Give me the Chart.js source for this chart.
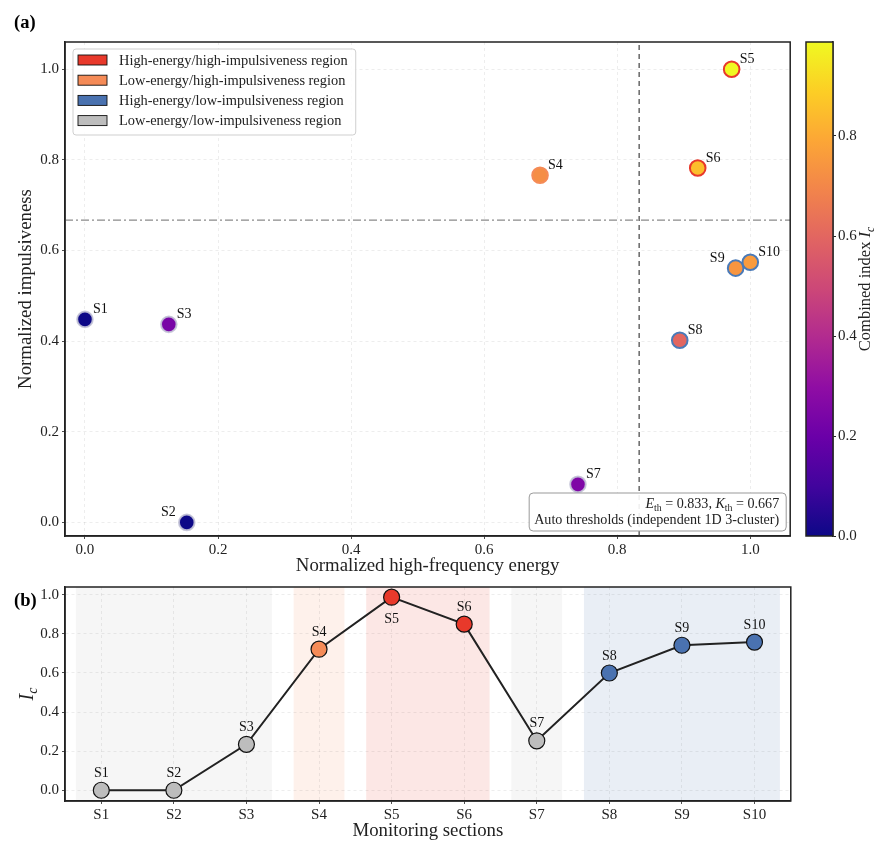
<!DOCTYPE html>
<html>
<head>
<meta charset="utf-8">
<script src="https://cdn.jsdelivr.net/npm/chart.js@4.4.1/dist/chart.umd.min.js"></script>
<style>
  body { margin: 0; background: #fff; width: 887px; height: 856px; position: relative; overflow: hidden; }
  .box { position: absolute; }
</style>
</head>
<body>
<div class="box" style="left:0;top:0;width:800px;height:580px"><canvas id="scatter"></canvas></div>
<div class="box" style="left:800px;top:0;width:87px;height:580px"><canvas id="cbar"></canvas></div>
<div class="box" style="left:0;top:575px;width:800px;height:281px"><canvas id="trend"></canvas></div>
<script>
// ---- data ----
var sections = ['S1', 'S2', 'S3', 'S4', 'S5', 'S6', 'S7', 'S8', 'S9', 'S10'];
var energy   = [0.000, 0.153, 0.126, 0.684, 0.972, 0.921, 0.741, 0.894, 0.978, 1.000];
var impulse  = [0.448, 0.000, 0.437, 0.766, 1.000, 0.782, 0.084, 0.402, 0.561, 0.574];
var combined = [0.000, 0.000, 0.235, 0.722, 0.988, 0.850, 0.253, 0.600, 0.742, 0.758];
var E_TH = 0.833;
var K_TH = 0.667;

var energyTicks  = [0, 0.2, 0.4, 0.6, 0.8, 1.0];
var impulseTicks = [0, 0.2, 0.4, 0.6, 0.8, 1.0];
var icTicks      = [0, 0.2, 0.4, 0.6, 0.8, 1.0];
var cbarTicks    = [0, 0.2, 0.4, 0.6, 0.8];

var regionKeys  = ['HH', 'LH', 'HL', 'LL'];
var regionNames = ['High-energy/high-impulsiveness region', 'Low-energy/high-impulsiveness region',
                   'High-energy/low-impulsiveness region', 'Low-energy/low-impulsiveness region'];

// ---- styling helpers ----
var SERIF = "'Liberation Serif', 'Times New Roman', serif";
var INK = '#222222';
var regionColor = { HH: '#e8392b', LH: '#f58b57', HL: '#4a72b0', LL: '#bdbdbd' };
var regionEdge  = { HH: '#e8392b', LH: '#f58b57', HL: '#4a7ab8', LL: 'rgba(195,195,215,0.9)' };
var plasmaStops = ['#0d0887', '#41049d', '#6a00a8', '#8f0da4', '#b12a90', '#cc4778',
                   '#e16462', '#f2844b', '#fca636', '#fcce25', '#f0f921'];

function hexRgb(h) { return [parseInt(h.substr(1, 2), 16), parseInt(h.substr(3, 2), 16), parseInt(h.substr(5, 2), 16)]; }
function plasma(t) {
  t = Math.max(0, Math.min(1, t));
  var p = t * (plasmaStops.length - 1), i = Math.min(Math.floor(p), plasmaStops.length - 2), f = p - i;
  var a = hexRgb(plasmaStops[i]), b = hexRgb(plasmaStops[i + 1]);
  return 'rgb(' + [0, 1, 2].map(function (k) { return Math.round(a[k] + (b[k] - a[k]) * f); }).join(',') + ')';
}
function withAlpha(h, al) { var c = hexRgb(h); return 'rgba(' + c[0] + ',' + c[1] + ',' + c[2] + ',' + al + ')'; }

function region(i) {
  var hiE = energy[i] >= E_TH, hiK = impulse[i] >= K_TH;
  if (hiE && hiK) return 'HH';
  if (!hiE && hiK) return 'LH';
  if (hiE) return 'HL';
  return 'LL';
}
var regions = sections.map(function (s, i) { return region(i); });
var icMax = Math.max.apply(null, combined);
var icMin = Math.min.apply(null, combined);

// rich text: parts = [[text, style]] with style containing 'i' (italic) and/or 's' (subscript)
function partFont(st, size) {
  var sz = st.indexOf('s') >= 0 ? size * 0.7 : size;
  return (st.indexOf('i') >= 0 ? 'italic ' : '') + sz + 'px ' + SERIF;
}
function drawRich(ctx, parts, x, y, size, align) {
  var w = 0;
  parts.forEach(function (p) { ctx.font = partFont(p[1], size); w += ctx.measureText(p[0]).width; });
  var cx = align === 'right' ? x - w : (align === 'center' ? x - w / 2 : x);
  ctx.textAlign = 'left';
  parts.forEach(function (p) {
    ctx.font = partFont(p[1], size);
    var dy = p[1].indexOf('s') >= 0 ? size * 0.28 : 0;
    ctx.fillText(p[0], cx, y + dy);
    cx += ctx.measureText(p[0]).width;
  });
  return w;
}
function roundBox(ctx, x, y, w, h, r) {
  ctx.beginPath();
  if (ctx.roundRect) ctx.roundRect(x, y, w, h, r); else ctx.rect(x, y, w, h);
}

var framePlugin = {
  id: 'frame',
  afterDraw: function (chart) {
    var a = chart.chartArea, c = chart.ctx;
    c.save();
    c.strokeStyle = INK;
    c.lineWidth = 1.5;
    c.strokeRect(a.left, a.top, a.right - a.left, a.bottom - a.top);
    c.restore();
  }
};

function fixedTicks(list) {
  return function (scale) { scale.ticks = list.map(function (v) { return { value: v }; }); };
}
var tickFont = { family: SERIF, size: 15 };
var titleFont = { family: SERIF, size: 18.8 };
var gridStyle = { color: 'rgba(0,0,0,0.09)', lineWidth: 0.8, tickColor: INK, tickLength: 3 };

Chart.defaults.font.family = SERIF;
Chart.defaults.color = INK;

// ---- (a) scatter ----
var xMin = -0.03, xMax = 1.06, yMin = -0.03, yMax = 1.06;

var scatterLabels = {
  id: 'scatterLabels',
  afterDatasetsDraw: function (chart) {
    var ctx = chart.ctx, pts = chart.getDatasetMeta(2).data;
    ctx.save();
    ctx.fillStyle = '#111';
    ctx.font = '14px ' + SERIF;
    ctx.textBaseline = 'middle';
    pts.forEach(function (pt, i) {
      var left = sections[i] === 'S2' || sections[i] === 'S9';
      ctx.textAlign = left ? 'right' : 'left';
      ctx.fillText(sections[i], pt.x + (left ? -11 : 8), pt.y - 10);
    });
    ctx.restore();
  }
};

var decorA = {
  id: 'decorA',
  afterDraw: function (chart) {
    var ctx = chart.ctx, a = chart.chartArea;
    ctx.save();
    // panel tag
    ctx.fillStyle = '#000';
    ctx.font = 'bold 18.5px ' + SERIF;
    ctx.textBaseline = 'middle';
    ctx.textAlign = 'left';
    ctx.fillText('(a)', 14, 23);

    // region legend
    ctx.font = '14.4px ' + SERIF;
    var tw = 0;
    regionNames.forEach(function (n) { tw = Math.max(tw, ctx.measureText(n).width); });
    var lx = a.left + 8, ly = a.top + 7, lw = tw + 54, lh = 86;
    roundBox(ctx, lx, ly, lw, lh, 3);
    ctx.fillStyle = 'rgba(255,255,255,0.85)';
    ctx.fill();
    ctx.strokeStyle = '#cfcfcf';
    ctx.lineWidth = 1;
    ctx.stroke();
    regionKeys.forEach(function (k, i) {
      var yy = ly + 11 + i * 20.2;
      ctx.fillStyle = regionColor[k];
      ctx.fillRect(lx + 5, yy - 5, 29, 10);
      ctx.strokeStyle = '#111';
      ctx.lineWidth = 0.9;
      ctx.strokeRect(lx + 5, yy - 5, 29, 10);
      ctx.fillStyle = INK;
      ctx.fillText(regionNames[i], lx + 46, yy + 1);
    });

    // threshold note
    var line1 = [['E', 'i'], ['th', 's'], [' = 0.833, ', ''], ['K', 'i'], ['th', 's'], [' = 0.667', '']];
    var line2 = [['Auto thresholds (independent 1D 3-cluster)', '']];
    ctx.font = '14.1px ' + SERIF;
    var w2 = ctx.measureText(line2[0][0]).width;
    var bx = a.right - 6 - w2 - 10, by = a.bottom - 43, bw = w2 + 12, bh = 38;
    roundBox(ctx, bx, by, bw, bh, 4);
    ctx.fillStyle = 'rgba(255,255,255,0.9)';
    ctx.fill();
    ctx.strokeStyle = '#999';
    ctx.lineWidth = 1;
    ctx.stroke();
    ctx.fillStyle = INK;
    ctx.textBaseline = 'middle';
    drawRich(ctx, line1, a.right - 11, by + 11, 14.1, 'right');
    drawRich(ctx, line2, a.right - 11, by + 27, 14.1, 'right');
    ctx.restore();
  }
};

new Chart(document.getElementById('scatter'), {
  type: 'scatter',
  data: {
    datasets: [
      {
        type: 'line', showLine: true,
        data: [{ x: E_TH, y: yMin }, { x: E_TH, y: yMax }],
        borderColor: '#666', borderWidth: 1.5, borderDash: [5, 4], pointRadius: 0
      },
      {
        type: 'line', showLine: true,
        data: [{ x: xMin, y: K_TH }, { x: xMax, y: K_TH }],
        borderColor: '#8a8a8a', borderWidth: 1.3, borderDash: [8, 3, 2, 3], pointRadius: 0
      },
      {
        data: sections.map(function (s, i) { return { x: energy[i], y: impulse[i] }; }),
        pointRadius: 7.8,
        pointBorderWidth: 2,
        pointBackgroundColor: combined.map(function (v) { return plasma((v - icMin) / (icMax - icMin)); }),
        pointBorderColor: regions.map(function (r) { return regionEdge[r]; })
      }
    ]
  },
  options: {
    responsive: true, maintainAspectRatio: false, animation: false,
    layout: { padding: { top: 42, right: 8, left: 0, bottom: 0 } },
    plugins: { legend: { display: false }, tooltip: { enabled: false } },
    scales: {
      x: {
        type: 'linear', min: xMin, max: xMax,
        afterBuildTicks: fixedTicks(energyTicks),
        afterFit: function (s) { s.height = 44; },
        grid: gridStyle, border: { color: INK, width: 1.5, dash: [3, 3] },
        ticks: { font: tickFont, color: INK, padding: 2, maxRotation: 0, callback: function (v) { return v.toFixed(1); } },
        title: { display: true, text: 'Normalized high-frequency energy', font: titleFont, color: INK, padding: { top: 0, bottom: 3 } }
      },
      y: {
        type: 'linear', min: yMin, max: yMax,
        afterBuildTicks: fixedTicks(impulseTicks),
        afterFit: function (s) { s.width = 65; },
        grid: gridStyle, border: { color: INK, width: 1.5, dash: [3, 3] },
        ticks: { font: tickFont, color: INK, padding: 3, callback: function (v) { return v.toFixed(1); } },
        title: { display: true, text: 'Normalized impulsiveness', font: titleFont, color: INK, padding: { top: 15, bottom: 0 } }
      }
    }
  },
  plugins: [framePlugin, scatterLabels, decorA]
});

// ---- colour bar ----
var gradientPlugin = {
  id: 'gradient',
  beforeDatasetsDraw: function (chart) {
    var a = chart.chartArea, ctx = chart.ctx;
    var g = ctx.createLinearGradient(0, a.bottom, 0, a.top);
    plasmaStops.forEach(function (c, i) { g.addColorStop(i / (plasmaStops.length - 1), c); });
    ctx.save();
    ctx.fillStyle = g;
    ctx.fillRect(a.left, a.top, a.right - a.left, a.bottom - a.top);
    ctx.restore();
  }
};
var cbarTitle = {
  id: 'cbarTitle',
  afterDraw: function (chart) {
    var ctx = chart.ctx, a = chart.chartArea;
    ctx.save();
    ctx.translate(66, (a.top + a.bottom) / 2);
    ctx.rotate(-Math.PI / 2);
    ctx.fillStyle = INK;
    ctx.textBaseline = 'middle';
    drawRich(ctx, [['Combined index ', ''], ['I', 'i'], ['c', 'is']], 0, 0, 16.5, 'center');
    ctx.restore();
  }
};

new Chart(document.getElementById('cbar'), {
  type: 'scatter',
  data: { datasets: [] },
  options: {
    responsive: true, maintainAspectRatio: false, animation: false,
    layout: { padding: { top: 42, bottom: 44, left: 6, right: 0 } },
    plugins: { legend: { display: false }, tooltip: { enabled: false } },
    scales: {
      x: { display: false, min: 0, max: 1 },
      y: {
        type: 'linear', position: 'right', min: icMin, max: icMax,
        afterBuildTicks: fixedTicks(cbarTicks),
        afterFit: function (s) { s.width = 54; },
        grid: { drawOnChartArea: false, tickColor: INK, tickLength: 3 },
        border: { color: INK, width: 1.5 },
        ticks: { font: tickFont, color: INK, padding: 2, callback: function (v) { return v.toFixed(1); } }
      }
    }
  },
  plugins: [gradientPlugin, framePlugin, cbarTitle]
});

// ---- (b) combined index by section ----
var spanPlugin = {
  id: 'spans',
  beforeDraw: function (chart) {
    var ctx = chart.ctx, a = chart.chartArea, xs = chart.scales.x;
    var runs = [];
    regions.forEach(function (r, i) {
      var last = runs[runs.length - 1];
      if (last && last.r === r) last.end = i; else runs.push({ r: r, start: i, end: i });
    });
    ctx.save();
    runs.forEach(function (run) {
      var x0 = xs.getPixelForValue(run.start - 0.35), x1 = xs.getPixelForValue(run.end + 0.35);
      ctx.fillStyle = withAlpha(regionColor[run.r], run.r === 'LL' ? 0.13 : 0.12);
      ctx.fillRect(x0, a.top, x1 - x0, a.bottom - a.top);
    });
    ctx.restore();
  }
};
var trendLabels = {
  id: 'trendLabels',
  afterDatasetsDraw: function (chart) {
    var ctx = chart.ctx, pts = chart.getDatasetMeta(0).data;
    ctx.save();
    ctx.fillStyle = '#111';
    ctx.font = '14px ' + SERIF;
    ctx.textAlign = 'center';
    ctx.textBaseline = 'middle';
    pts.forEach(function (pt, i) {
      var below = combined[i] >= 0.95;
      ctx.fillText(sections[i], pt.x, pt.y + (below ? 22 : -17));
    });
    ctx.restore();
  }
};
var decorB = {
  id: 'decorB',
  afterDraw: function (chart) {
    var ctx = chart.ctx, a = chart.chartArea;
    ctx.save();
    ctx.fillStyle = '#000';
    ctx.font = 'bold 18.5px ' + SERIF;
    ctx.textAlign = 'left';
    ctx.textBaseline = 'middle';
    ctx.fillText('(b)', 14, 26);
    ctx.translate(28, (a.top + a.bottom) / 2);
    ctx.rotate(-Math.PI / 2);
    ctx.fillStyle = INK;
    drawRich(ctx, [['I', 'i'], ['c', 'is']], 0, 0, 20, 'center');
    ctx.restore();
  }
};

new Chart(document.getElementById('trend'), {
  type: 'scatter',
  data: {
    datasets: [{
      showLine: true,
      data: sections.map(function (s, i) { return { x: i, y: combined[i] }; }),
      borderColor: '#222', borderWidth: 2,
      pointRadius: 8, pointBorderWidth: 1.2, pointBorderColor: '#111',
      pointBackgroundColor: regions.map(function (r) { return regionColor[r]; })
    }]
  },
  options: {
    responsive: true, maintainAspectRatio: false, animation: false,
    layout: { padding: { top: 9, right: 8, left: 0, bottom: 0 } },
    plugins: { legend: { display: false }, tooltip: { enabled: false } },
    scales: {
      x: {
        type: 'linear', min: -0.5, max: sections.length - 0.5,
        afterBuildTicks: fixedTicks(sections.map(function (s, i) { return i; })),
        afterFit: function (s) { s.height = 55; },
        grid: gridStyle, border: { color: INK, width: 1.5, dash: [3, 3] },
        ticks: { font: tickFont, color: INK, padding: 2, maxRotation: 0, callback: function (v) { return sections[v]; } },
        title: { display: true, text: 'Monitoring sections', font: titleFont, color: INK, padding: { top: 0, bottom: 14 } }
      },
      y: {
        type: 'linear', min: -0.055, max: 1.04,
        afterBuildTicks: fixedTicks(icTicks),
        afterFit: function (s) { s.width = 65; },
        grid: gridStyle, border: { color: INK, width: 1.5, dash: [3, 3] },
        ticks: { font: tickFont, color: INK, padding: 3, callback: function (v) { return v.toFixed(1); } }
      }
    }
  },
  plugins: [spanPlugin, framePlugin, trendLabels, decorB]
});
</script>
</body>
</html>
